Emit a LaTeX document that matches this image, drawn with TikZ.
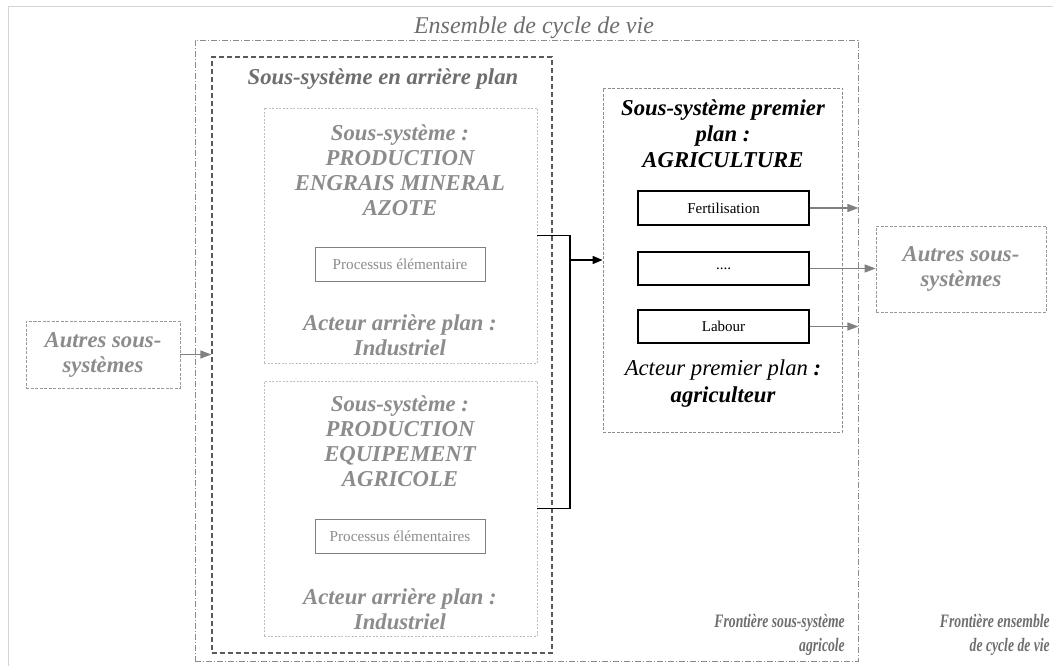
\documentclass[tikz,border=0pt]{standalone}
\usepackage{fontspec}
\usepackage{graphicx}
\setmainfont{Liberation Serif}
\usetikzlibrary{arrows.meta,calc}
\definecolor{tgray}{HTML}{6E6E6E}
\definecolor{lgray}{HTML}{8C8C8C}
\definecolor{agray}{HTML}{808080}
\definecolor{fgray}{HTML}{D4D4D4}
\tikzset{
  fs/.style={font=\fontsize{#1}{17}\selectfont},
  outerbox/.style={draw=lgray, line width=0.8pt, dash pattern=on 6pt off 2pt on 1pt off 2pt},
  bgbox/.style={draw=black!65, line width=1.3pt, dash pattern=on 5pt off 3pt},
  innerbox/.style={draw=black!25, line width=0.7pt, dash pattern=on 2pt off 1.5pt},
  fgbox/.style={draw=black!45, line width=0.8pt, dash pattern=on 3pt off 1.5pt},
  otherbox/.style={draw=black!40, line width=0.8pt, dash pattern=on 3pt off 1.5pt},
  procbox/.style={draw=black!50, line width=0.8pt},
  actbox/.style={draw=black, line width=1.4pt},
  sized/.style 2 args={minimum width=#1, minimum height=#2, inner sep=0pt},
  blk/.style={line width=1.4pt, draw=black},
  garrow/.style={draw=agray, line width=1.3pt, -{Triangle[length=11pt,width=8pt]}},
  barrow/.style={draw=black, line width=1.4pt, -{Triangle[length=10pt,width=8pt]}},
  gtxt/.style={text=lgray, align=center, inner sep=0pt, font=\fontsize{22.7}{25}\selectfont\bfseries\itshape},
  frtxt/.style={text=tgray, inner sep=0pt, anchor=east, font=\fontsize{19}{24}\selectfont\bfseries\itshape},
}
\begin{document}
\begin{tikzpicture}[x=1pt,y=-1pt]
\useasboundingbox (0,0) rectangle (1053,666);
\fill[white] (0,0) rectangle (1053,666);
\draw[fgray, line width=0.8pt] (8,670) -- (8,6) -- (1053,6);

% boxes
\node[outerbox, sized={663pt}{621pt}] (outer) at (526.5,350.5) {};
\node[bgbox, sized={340pt}{596pt}] (bg) at (382,355) {};
\node[innerbox, sized={273pt}{255pt}] (inner1) at (400.5,235.5) {};
\node[innerbox, sized={273pt}{255pt}] (inner2) at (400.5,508.5) {};
\node[procbox, sized={170pt}{34pt}, text=lgray, fs=15.2] (proc1) at (400,264) {Processus élémentaire};
\node[procbox, sized={170pt}{34pt}, text=lgray, fs=15.2] (proc2) at (400,536) {Processus élémentaires};
\node[fgbox, sized={239pt}{344pt}] (fg) at (722.5,260) {};
\node[actbox, sized={171pt}{34pt}, fs=15] (fert) at (723.5,208) {Fertilisation};
\node[actbox, sized={171pt}{33pt}, fs=15] (dots) at (723.5,268.5) {....};
\node[actbox, sized={171pt}{33pt}, fs=15] (labour) at (723.5,326.5) {Labour};
\node[otherbox, sized={154pt}{67pt}, gtxt] (autresL) at (103,354.5) {Autres sous-\\systèmes};
\node[otherbox, sized={170pt}{86pt}, gtxt] (autresR) at (961,269) {Autres sous-\\systèmes};

% titles and texts
\node[text=tgray, inner sep=0pt, font=\fontsize{24}{28}\selectfont\itshape] (tEns) at (534,28) {Ensemble de cycle de vie};
\node[text=tgray, inner sep=0pt, font=\fontsize{22.7}{26}\selectfont\bfseries\itshape] (tBg) at (383,79) {Sous-système en arrière plan};
\node[gtxt] (t1a) at (400,170) {Sous-système :\\PRODUCTION\\ENGRAIS MINERAL\\AZOTE};
\node[gtxt] (t1b) at (400,335) {Acteur arrière plan :\\Industriel};
\node[gtxt] (t2a) at (400,441.5) {Sous-système :\\PRODUCTION\\EQUIPEMENT\\AGRICOLE};
\node[gtxt] (t2b) at (400,609.5) {Acteur arrière plan :\\Industriel};
\node[align=center, inner sep=0pt, font=\fontsize{22.7}{26}\selectfont\bfseries\itshape] (tFg) at (723,134) {Sous-système premier\\plan :\\AGRICULTURE};
\node[align=center, inner sep=0pt, font=\fontsize{22.7}{27}\selectfont\itshape] (tAct) at (723,383.5) {Acteur premier plan \textbf{:}\\\textbf{agriculteur}};
\node[frtxt] (tFr1) at (845,635) {\scalebox{0.72}[1]{\begin{tabular}{@{}r@{}}Frontière sous-système\\agricole\end{tabular}}};
\node[frtxt] (tFr2) at (1050,635) {\scalebox{0.72}[1]{\begin{tabular}{@{}r@{}}Frontière ensemble\\de cycle de vie\end{tabular}}};

% connectors
\coordinate (jt) at (570,235.5);
\coordinate (jb) at (570,508.5);
\coordinate (jm) at (570,260);
\draw[blk] (inner1.east) -- (jt) -- (jb) -- (inner2.east);
\draw[barrow] (jm) -- (fg.west);
\draw[garrow] (fert.east) -- (outer.east |- fert.east);
\draw[garrow] (dots.east) -- (autresR.west |- dots.east);
\draw[garrow] (labour.east) -- (outer.east |- labour.east);
\draw[garrow] (autresL.east) -- (bg.west |- autresL.east);
\end{tikzpicture}
\end{document}
